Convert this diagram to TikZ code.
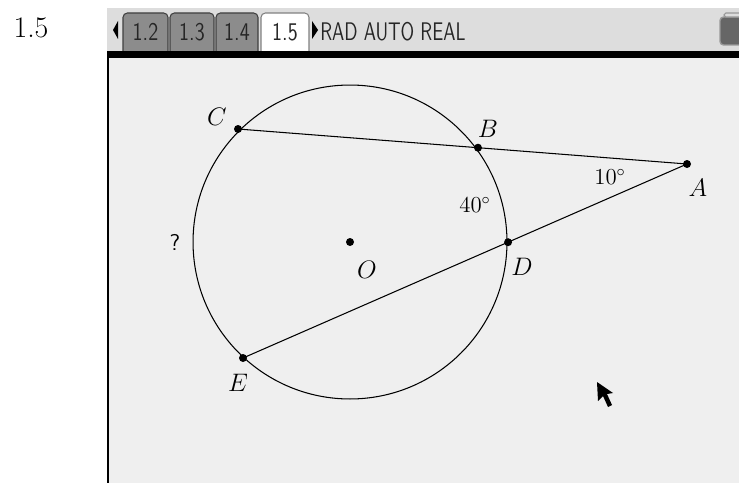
\documentclass[tikz,border=0pt]{standalone}
\usepackage{tikz}
\usetikzlibrary{positioning,calc}
\definecolor{screen}{HTML}{EFEFEF}
\definecolor{barbg}{HTML}{DDDDDD}
\definecolor{tabbg}{HTML}{8C8C8C}
\definecolor{batt}{HTML}{666666}
\newcommand{\narrow}[2]{\scalebox{#1}[1]{#2}}

\begin{document}
\begin{tikzpicture}[x=0.02cm,y=-0.02cm,
  dot/.style={circle,fill=black,inner sep=0pt,minimum size=0.16cm},
  lbl/.style={font=\fontsize{14}{16}\selectfont},
  deg/.style={font=\fontsize{13}{15}\selectfont},
  tabbox/.style={draw=black!75,line width=0.6pt,rounded corners=2.5pt},
  tabtxt/.style={font=\sffamily\fontsize{14.5}{16}\selectfont,text=black!85}]
\useasboundingbox (0,0) rectangle (739,483);
% screen of the handheld
\fill[screen] (107,58) rectangle (739,483);
\fill[barbg] (107,8) rectangle (739,52);
\draw[line width=1.2pt] (108,58) -- (108,483);
\node[font=\fontsize{17}{19}\selectfont] (page) at (31,28) {1.5};
% tabs
\fill (118,21) -- (118,39) -- (113,30) -- cycle;
\draw[tabbox,fill=tabbg] (123,56) -- (123,13) -- (168,13) -- (168,56);
\draw[tabbox,fill=tabbg] (170,56) -- (170,13) -- (214,13) -- (214,56);
\draw[tabbox,fill=tabbg] (216,56) -- (216,13) -- (258,13) -- (258,56);
\draw[tabbox,draw=black!50,fill=white] (261,56) -- (261,13) -- (309,13) -- (309,56);
\fill[black] (107,51) rectangle (739,58);
\node[tabtxt] (t12) at (145.5,32) {\narrow{0.8}{1.2}};
\node[tabtxt] (t13) at (192,32) {\narrow{0.8}{1.3}};
\node[tabtxt] (t14) at (237,32) {\narrow{0.8}{1.4}};
\node[tabtxt] (t15) at (285,32) {\narrow{0.8}{1.5}};
\fill (312,21) -- (312,39) -- (318,30) -- cycle;
\node[tabtxt,anchor=west,inner sep=0pt] (mode) at (320,32) {\narrow{0.74}{RAD AUTO REAL}};
\draw[fill=batt,draw=black!40,line width=0.8pt,rounded corners=2pt] (720,45) rectangle (745,17);
\draw[draw=black!40,fill=barbg,line width=0.6pt,rounded corners=1pt] (724,17) rectangle (745,13);
% figure
\coordinate (O) at (350,242);
\coordinate (C) at (238,129);
\coordinate (A) at (687,164);
\coordinate (E) at (243,358);
\coordinate (B) at ($(C)!0.5345!(A)$);
\coordinate (D) at ($(E)!0.597!(A)$);
\draw[line width=0.6pt] (O) circle [radius=3.14cm];
\draw[line width=0.6pt] (C) -- (A);
\draw[line width=0.6pt] (E) -- (A);
\foreach \p in {O,C,A,E,B,D} \node[dot] at (\p) {};
\node[lbl] (lC) at (217,117) {$C$};
\node[lbl] (lB) at (488,129) {$B$};
\node[lbl] (lA) at (698,188) {$A$};
\node[lbl] (lD) at (522,267) {$D$};
\node[lbl] (lO) at (367,270) {$O$};
\node[lbl] (lE) at (238,383) {$E$};
\node[deg] (ang10) at (610,177) {10$^\circ$};
\node[deg] (ang40) at (475,205) {40$^\circ$};
\node[font=\sffamily\fontsize{13}{15}\selectfont] (q) at (175,242) {?};
% pointer
\fill (597,382) -- (598,401) -- (603,396) -- (608,407) -- (612,405) -- (607,394) -- (613,393) -- cycle;
\end{tikzpicture}
\end{document}
